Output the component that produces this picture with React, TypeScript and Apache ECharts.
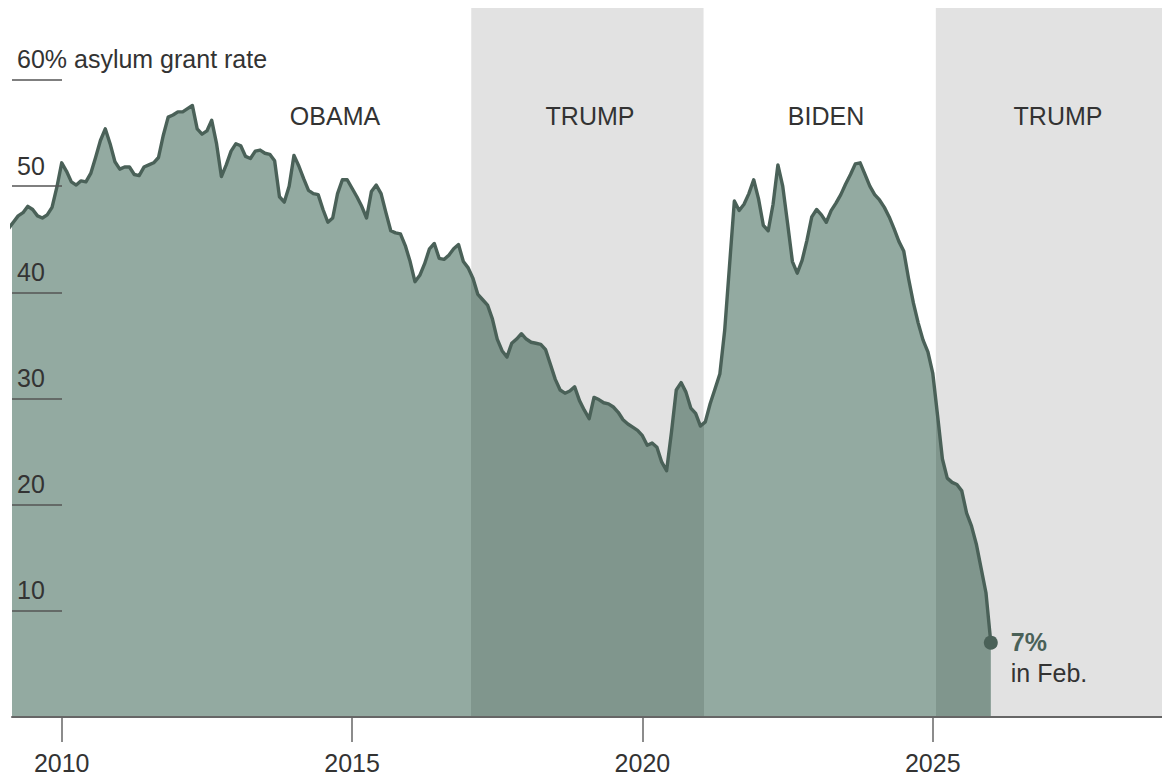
import React, { useEffect, useRef } from "react";
import * as echarts from "echarts";

// ---------- data ----------
const START_YEAR = 2009;
const START_MONTH = 2; // first monthly value: Feb 2009
const GRANT_RATE = [
  46.0, 46.6, 47.2, 47.5, 48.1, 47.8, 47.2, 47.0, 47.3, 48.0,
  49.9, 52.2, 51.4, 50.4, 50.1, 50.5, 50.4, 51.2, 52.7, 54.3,
  55.4, 54.0, 52.3, 51.6, 51.8, 51.8, 51.1, 51.0, 51.8, 52.0,
  52.2, 52.7, 54.8, 56.5, 56.7, 57.0, 57.0, 57.3, 57.6, 55.4,
  54.9, 55.2, 56.2, 54.0, 50.9, 52.0, 53.3, 54.0, 53.8, 52.8,
  52.6, 53.3, 53.4, 53.1, 53.0, 52.4, 49.0, 48.5, 50.0, 52.9,
  51.9, 50.7, 49.6, 49.3, 49.2, 47.8, 46.6, 47.0, 49.3, 50.6,
  50.6, 49.8, 49.0, 48.1, 47.0, 49.5, 50.1, 49.3, 47.5, 45.8,
  45.6, 45.5, 44.4, 42.9, 41.0, 41.6, 42.7, 44.1, 44.6, 43.2,
  43.1, 43.5, 44.1, 44.5, 42.9, 42.3, 41.3, 39.8, 39.3, 38.8,
  37.5, 35.6, 34.5, 33.9, 35.2, 35.6, 36.1, 35.6, 35.3, 35.2,
  35.1, 34.6, 33.2, 31.8, 30.8, 30.5, 30.7, 31.1, 29.8, 28.9,
  28.1, 30.1, 29.9, 29.6, 29.5, 29.2, 28.7, 28.0, 27.6, 27.3,
  27.0, 26.5, 25.6, 25.8, 25.4, 24.0, 23.2, 26.8, 30.8, 31.5,
  30.6, 29.1, 28.6, 27.4, 27.8, 29.5, 30.9, 32.3, 36.4, 42.5,
  48.6, 47.7, 48.3, 49.3, 50.6, 48.8, 46.3, 45.8, 48.3, 52.0,
  50.0, 46.5, 42.9, 41.8, 43.0, 44.9, 47.1, 47.8, 47.3, 46.6,
  47.7, 48.4, 49.2, 50.2, 51.1, 52.1, 52.2, 51.1, 50.0, 49.2,
  48.7, 48.0, 47.1, 46.0, 44.8, 43.9, 41.3, 39.0, 37.1, 35.5,
  34.4, 32.4, 28.4, 24.3, 22.5, 22.1, 21.9, 21.3, 19.2, 18.0,
  16.3, 14.0, 11.7, 7.0,
];
const YEAR_TICKS = [2010, 2015, 2020, 2025];
const RATE_TICKS = [10, 20, 30, 40, 50, 60];
const PRESIDENTS = ["OBAMA", "TRUMP", "BIDEN", "TRUMP"];
const TERM_STARTS = [2009.05, 2017.053, 2021.053, 2025.053];
const TERM_SHADED = [false, true, false, true];
const LAST_MONTH_LABEL = "in Feb.";

// ---------- layout & style ----------
const W = 1162;
const H = 776;
const X_MIN = 2009.144;
const X_MAX = 2028.948;
const Y_MAX = 66.78;
const PRES_LABEL_X = [335, 590, 826, 1058];
const PRES_LABEL_Y = 116;
const FONT = '"Liberation Sans", Arial, Helvetica, sans-serif';
const LIGHT = "#93aaa1";
const DARK = "#80968d";
const LINE = "#4a6158";
const LABEL_GREEN = "#4a6158";
const SHADE = "#e2e2e2";
const TEXT = "#333333";

export default function App() {
  const ref = useRef<HTMLDivElement>(null);

  useEffect(() => {
    if (!ref.current) return;
    const chart = echarts.init(ref.current, null, { renderer: "svg" });

    const points = GRANT_RATE.map((v, i) => [
      START_YEAR + (START_MONTH - 1 + i) / 12,
      v,
    ]);
    const last = points[points.length - 1];

    const shadeAreas: any[] = [];
    const pieces: any[] = [];
    TERM_STARTS.forEach((s, i) => {
      const e = i + 1 < TERM_STARTS.length ? TERM_STARTS[i + 1] : X_MAX;
      if (TERM_SHADED[i]) shadeAreas.push([{ xAxis: s }, { xAxis: e }]);
      const piece: any = { color: TERM_SHADED[i] ? DARK : LIGHT };
      if (i > 0) piece.gte = s;
      if (i + 1 < TERM_STARTS.length) piece.lt = e;
      pieces.push(piece);
    });

    chart.setOption({
      animation: false,
      backgroundColor: "#ffffff",
      grid: {
        left: 12,
        right: 0,
        top: 8,
        bottom: H - 717,
        containLabel: false,
        outerBoundsMode: "none",
      },
      visualMap: {
        type: "piecewise",
        show: false,
        seriesIndex: 0,
        dimension: 0,
        pieces,
      },
      xAxis: {
        type: "value",
        min: X_MIN,
        max: X_MAX,
        z: 10,
        axisLine: { show: true, lineStyle: { color: "#666666", width: 2 } },
        axisTick: {
          show: true,
          customValues: YEAR_TICKS,
          length: 25,
          lineStyle: { color: "#666666", width: 1.5 },
        },
        axisLabel: {
          customValues: YEAR_TICKS,
          margin: 35,
          fontSize: 25,
          lineHeight: 22,
          fontFamily: FONT,
          color: TEXT,
          formatter: (v: number) => String(Math.round(v)),
        },
        splitLine: { show: false },
      },
      yAxis: {
        type: "value",
        min: 0,
        max: Y_MAX,
        z: 10,
        axisLine: { show: false },
        axisTick: {
          show: true,
          inside: true,
          customValues: RATE_TICKS,
          length: 50,
          lineStyle: { color: "#555555", width: 1.5 },
        },
        axisLabel: {
          inside: true,
          customValues: RATE_TICKS,
          margin: 5,
          fontSize: 25,
          fontFamily: FONT,
          color: TEXT,
          verticalAlign: "bottom",
          padding: [0, 0, 8, 0],
          formatter: (v: number) =>
            v === RATE_TICKS[RATE_TICKS.length - 1]
              ? `${v}% asylum grant rate`
              : String(v),
        },
        splitLine: { show: false },
      },
      series: [
        {
          type: "line",
          data: points,
          showSymbol: false,
          silent: true,
          lineStyle: { width: 0 },
          areaStyle: { opacity: 1 },
          markArea: {
            silent: true,
            itemStyle: { color: SHADE },
            data: shadeAreas,
          },
          z: 2,
        },
        {
          type: "line",
          data: points,
          showSymbol: false,
          silent: true,
          lineStyle: { color: LINE, width: 3.4, join: "round" },
          z: 3,
        },
        {
          type: "scatter",
          data: [last],
          symbolSize: 14,
          silent: true,
          itemStyle: { color: LINE, opacity: 1 },
          z: 4,
          label: {
            show: true,
            opacity: 1,
            position: "right",
            distance: 13,
            offset: [0, 15],
            formatter: (p: any) =>
              `{b|${Math.round(p.value[1])}%}\n{n|${LAST_MONTH_LABEL}}`,
            rich: {
              b: {
                fontSize: 25,
                fontWeight: "bold",
                fontFamily: FONT,
                color: LABEL_GREEN,
                lineHeight: 31,
              },
              n: {
                fontSize: 25,
                fontFamily: FONT,
                color: TEXT,
                lineHeight: 31,
              },
            },
          },
        },
      ],
      graphic: PRESIDENTS.map((name, i) => ({
        type: "text",
        x: PRES_LABEL_X[i],
        y: PRES_LABEL_Y,
        z: 20,
        silent: true,
        style: {
          text: name,
          font: `25px ${FONT}`,
          fill: TEXT,
          align: "center",
          verticalAlign: "middle",
          textAlign: "center",
          textVerticalAlign: "middle",
        },
      })),
    });

    return () => chart.dispose();
  }, []);

  return (
    <div
      ref={ref}
      style={{ position: "absolute", left: 0, top: 0, width: W, height: H }}
    />
  );
}
